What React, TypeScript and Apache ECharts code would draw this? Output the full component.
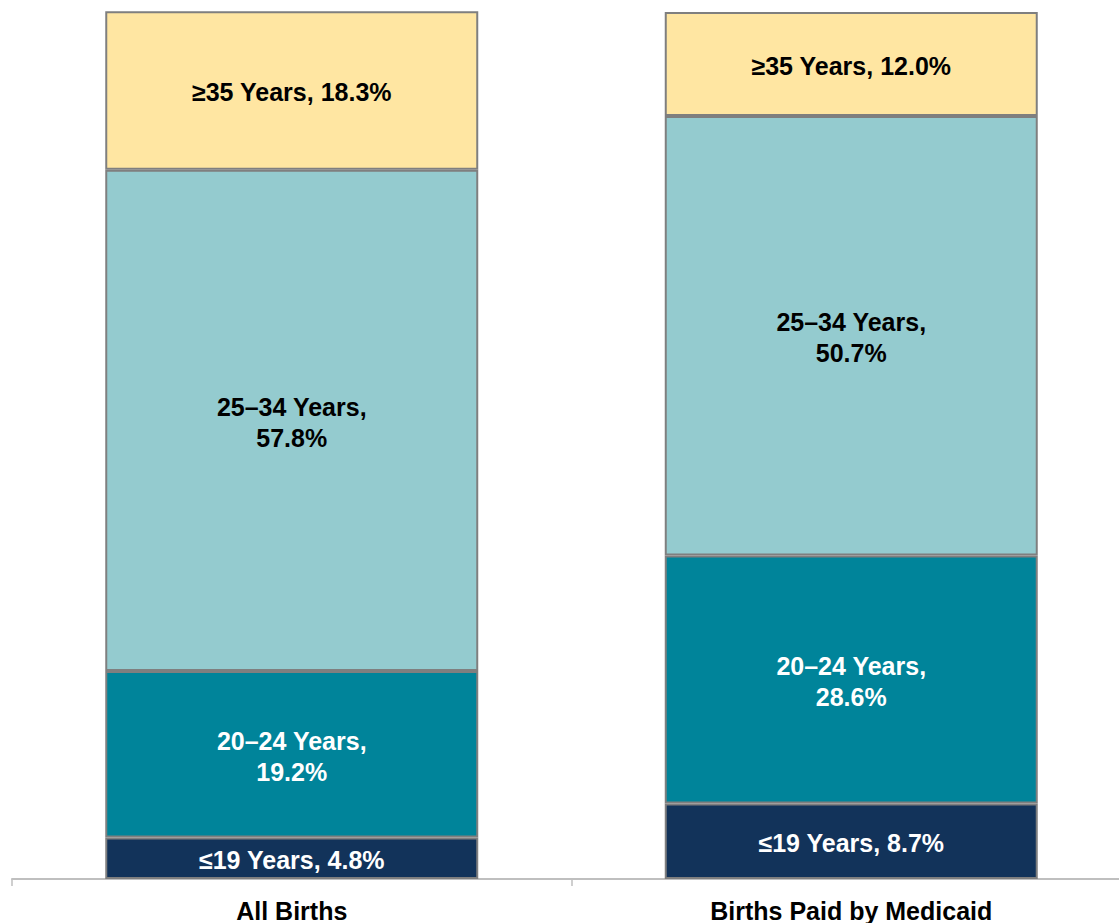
import React, { useEffect, useRef } from "react";
import * as echarts from "echarts";

const categories = ["All Births", "Births Paid by Medicaid"];
const seriesNames = ["≤19 Years", "20–24 Years", "25–34 Years", "≥35 Years"];
const under19 = [4.8, 8.7];
const age20to24 = [19.2, 28.6];
const age25to34 = [57.8, 50.7];
const age35plus = [18.3, 12.0];
const seriesColors = ["#12335A", "#00849A", "#94CBCF", "#FFE6A2"];
const labelColors = ["#ffffff", "#ffffff", "#000000", "#000000"];
const twoLine = [false, true, true, false];

export default function App() {
  const ref = useRef<HTMLDivElement>(null);
  useEffect(() => {
    if (!ref.current) return;
    const chart = echarts.init(ref.current, null, { renderer: "svg" });
    const values = [under19, age20to24, age25to34, age35plus];
    chart.setOption({
      animation: false,
      textStyle: { fontFamily: "Liberation Sans, Arial, sans-serif" },
      grid: { left: 12, top: 12, right: 1, bottom: 44 },
      xAxis: {
        type: "category",
        data: categories,
        axisLine: { show: true, lineStyle: { color: "#bfbfbf", width: 2 } },
        axisTick: { show: true, length: 7, lineStyle: { color: "#bfbfbf", width: 1.5 } },
        axisLabel: {
          color: "#000",
          fontSize: 25,
          fontWeight: "bold",
          margin: 19,
        },
      },
      yAxis: {
        type: "value",
        min: 0,
        max: 100,
        show: false,
      },
      series: seriesNames.map((name, i) => ({
        name,
        type: "bar",
        stack: "total",
        barWidth: 373,
        data: values[i],
        itemStyle: {
          color: seriesColors[i],
          borderColor: "#7f7f7f",
          borderWidth: 2,
        },
        label: {
          show: true,
          position: "inside",
          offset: [0, 2],
          color: labelColors[i],
          fontSize: 25,
          fontWeight: "bold",
          lineHeight: 31,
          formatter: (p: any) =>
            twoLine[i]
              ? `${name},\n${p.value.toFixed(1)}%`
              : `${name}, ${p.value.toFixed(1)}%`,
        },
      })),
    });
    return () => chart.dispose();
  }, []);
  return (
    <div
      style={{
        position: "absolute",
        left: 0,
        top: 0,
        width: 1119,
        height: 923,
        overflow: "hidden",
      }}
    >
      <div ref={ref} style={{ width: 1132, height: 923 }} />
    </div>
  );
}
